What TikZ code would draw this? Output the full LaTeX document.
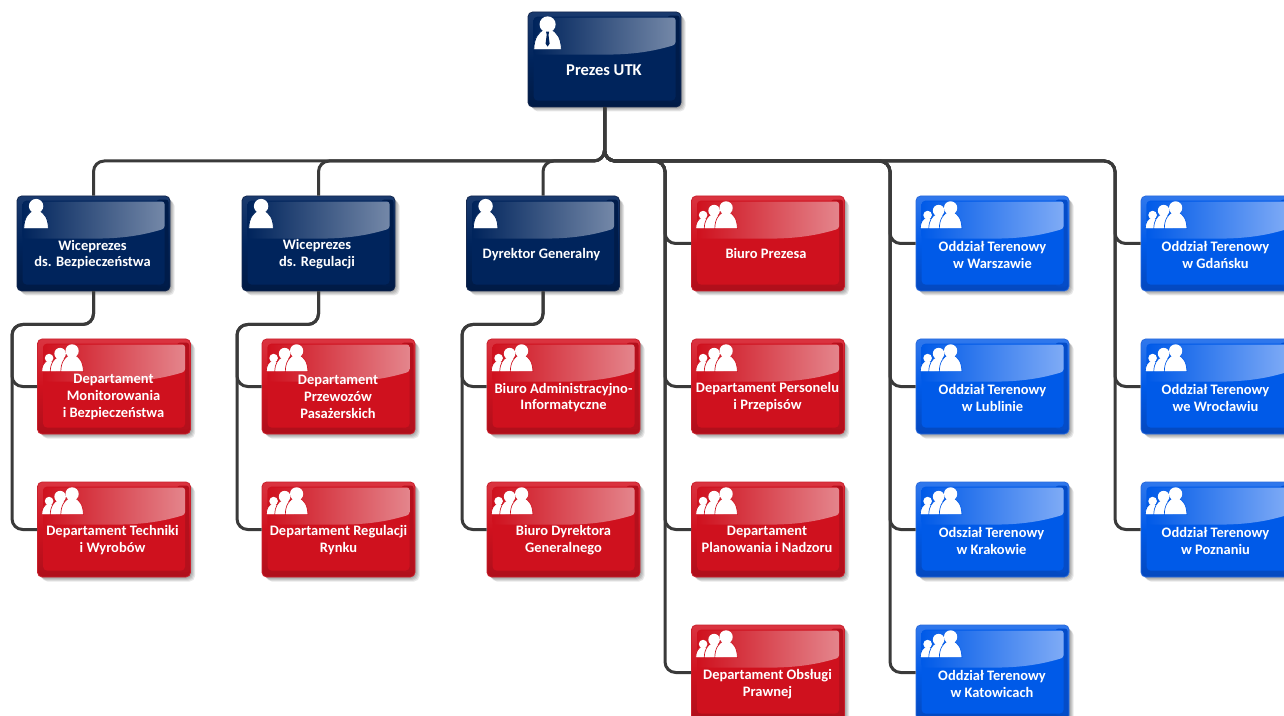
\documentclass[tikz,border=0pt]{standalone}
\usepackage{fontspec}
\setmainfont{Carlito}
\definecolor{navyEdge}{HTML}{14284F}\definecolor{navyTop}{HTML}{1A3A6E}\definecolor{navyBot}{HTML}{001A44}\definecolor{navySide}{HTML}{001C4A}\definecolor{navyFace}{HTML}{00245C}\definecolor{navyGloss}{HTML}{7488A8}
\definecolor{redEdge}{HTML}{C9202C}\definecolor{redTop}{HTML}{DA3440}\definecolor{redBot}{HTML}{AE0F1B}\definecolor{redSide}{HTML}{B4101C}\definecolor{redFace}{HTML}{CF111E}\definecolor{redGloss}{HTML}{E4858C}
\definecolor{blueEdge}{HTML}{2A6ADC}\definecolor{blueTop}{HTML}{3078EC}\definecolor{blueBot}{HTML}{0448BE}\definecolor{blueSide}{HTML}{044CC8}\definecolor{blueFace}{HTML}{005AE8}\definecolor{blueGloss}{HTML}{7FABF6}
\definecolor{linkgray}{HTML}{3A3A3A}
\tikzset{
  boxbody/.style={inner sep=0pt,minimum width=114.75pt,minimum height=71.25pt,rounded corners=3.5pt},
  boxlabel/.style={text=white,align=center,inner sep=0pt,font=\fontsize{10.85}{12.6}\selectfont\bfseries},
  conn/.style={draw=linkgray,line width=2.25pt,rounded corners=8pt},
}
\newcommand\personat[3]{%
  \begin{scope}[shift={(#1,#2)},scale=#3]
    \path[fill=white,draw=curFace,line width=.5pt] (-12.3,0) .. controls (-12,-11) and (-8,-15) .. (-3.5,-18) -- (3.5,-18) .. controls (8,-15) and (12,-11) .. (12.3,0) -- cycle;
    \path[fill=white] (0,-22.5) circle[radius=5.4pt];
  \end{scope}}
\newcommand\iconone{\personat{19.5}{33}{1}}
\newcommand\icontie{\personat{20}{38}{1.12}%
  \path[fill=curFace] (18.4,20) -- (21.6,20) -- (20.9,23) -- (22,32) -- (20,35) -- (18,32) -- (19.1,23) -- cycle;}
\newcommand\iconthree{\personat{12}{33}{.6}\personat{23}{33}{.8}\personat{35}{33}{.92}}
% name, centre x, centre y, scheme, icon, text centre, text
\newcommand\orgbox[7]{%
  \begingroup
  \colorlet{curFace}{#4Face}%
  \foreach \sh in {1,2,3,4}{\path[fill=black,opacity=.09,rounded corners=4pt]
     ({#2-76.5+\sh+.5},{#3-47.5+\sh+.5}) rectangle ({#2+76.5+\sh+.5},{#3+47.5+\sh+.5});}%
  \node[boxbody,draw=#4Edge,line width=.6pt,top color=#4Top,bottom color=#4Bot,middle color=#4Face] (#1) at (#2,#3) {};
  \begin{scope}[shift={(#1.north west)}]
    \path[fill=#4Side,rounded corners=2pt] (140,4) rectangle (152,91);
    \path[fill=#4Face,rounded corners=3pt] (6,5) rectangle (148,89);
    \path[left color=#4Face,right color=#4Gloss,rounded corners=2pt]
       (6,6) -- (148,6) -- (148,33) .. controls (122,41) and (100,43) .. (75,43) -- (6,43) -- cycle;
    #5
  \end{scope}
  \node[boxlabel] (#1-label) at (#6) {#7};
  \endgroup}
\begin{document}
\begin{tikzpicture}[x=.75pt,y=-.75pt]
\useasboundingbox (0,0) rectangle (1284,716);
\clip (0,0) rectangle (1284,716);
\fill[white] (0,0) rectangle (1284,716);
\coordinate (bus) at (0,161);
\coordinate (railE) at (665,0);
\coordinate (railF) at (890,0);
\coordinate (railG) at (1115,0);
\coordinate (railA) at (12,324.5);
\coordinate (railB) at (237,324.5);
\coordinate (railC) at (462,324.5);

\orgbox{top}{604.5}{59.5}{navy}{\icontie}{604,70}{\fontsize{12.4}{14}\selectfont Prezes UTK}
\orgbox{va}{93.5}{243.5}{navy}{\iconone}{92.5,254.5}{Wiceprezes\\ds. Bezpieczeństwa}
\orgbox{vb}{318.5}{243.5}{navy}{\iconone}{317,254.5}{Wiceprezes\\ds. Regulacji}
\orgbox{vc}{543}{243.5}{navy}{\iconone}{541.5,254.5}{Dyrektor Generalny}
\orgbox{aa}{114}{386.5}{red}{\iconthree}{113.5,397}{Departament\\Monitorowania\\i Bezpieczeństwa}
\orgbox{ab}{114}{529.5}{red}{\iconthree}{112.5,540}{Departament Techniki\\i Wyrobów}
\orgbox{ba}{338.5}{386.5}{red}{\iconthree}{338,397}{Departament\\Przewozów\\Pasażerskich}
\orgbox{bb}{338.5}{529.5}{red}{\iconthree}{338.5,540}{Departament Regulacji\\Rynku}
\orgbox{ca}{563.5}{386.5}{red}{\iconthree}{563.5,397.5}{Biuro Administracyjno-\\Informatyczne}
\orgbox{cb}{563.5}{529.5}{red}{\iconthree}{563.5,540}{Biuro Dyrektora\\Generalnego}
\orgbox{ea}{768}{243.5}{red}{\iconthree}{766,253.5}{Biuro Prezesa}
\orgbox{eb}{768}{386.5}{red}{\iconthree}{767.5,397}{Departament Personelu\\i Przepisów}
\orgbox{ec}{768}{529.5}{red}{\iconthree}{767,539.5}{Departament\\Planowania i Nadzoru}
\orgbox{ed}{768}{672.5}{red}{\iconthree}{767.5,684}{Departament Obsługi\\Prawnej}
\orgbox{fa}{992.5}{243.5}{blue}{\iconthree}{992.5,255}{Oddział Terenowy\\w Warszawie}
\orgbox{fb}{992.5}{386.5}{blue}{\iconthree}{992.5,398}{Oddział Terenowy\\w Lublinie}
\orgbox{fc}{992.5}{529.5}{blue}{\iconthree}{991.5,541}{Odsział Terenowy\\w Krakowie}
\orgbox{fd}{992.5}{672.5}{blue}{\iconthree}{992,684}{Oddział Terenowy\\w Katowicach}
\orgbox{ga}{1217.5}{243.5}{blue}{\iconthree}{1215.5,255}{Oddział Terenowy\\w Gdańsku}
\orgbox{gb}{1217.5}{386.5}{blue}{\iconthree}{1215.5,398}{Oddział Terenowy\\we Wrocławiu}
\orgbox{gc}{1217.5}{529.5}{blue}{\iconthree}{1215.5,541}{Oddział Terenowy\\w Poznaniu}

\foreach \t in {va,vb,vc}
  \draw[conn] (top.south) |- (\t.north |- bus) -- (\t.north);
\foreach \r/\t in {railE/ea,railE/eb,railE/ec,railE/ed,railF/fa,railF/fb,railF/fc,railF/fd,railG/ga,railG/gb,railG/gc}
  \draw[conn] (top.south) |- (\r |- bus) -- (\r |- \t.west) -- (\t.west);
\foreach \s/\r/\t in {va/railA/aa,va/railA/ab,vb/railB/ba,vb/railB/bb,vc/railC/ca,vc/railC/cb}
  \draw[conn] (\s.south) |- (\r) -- (\r |- \t.west) -- (\t.west);
\end{tikzpicture}
\end{document}
